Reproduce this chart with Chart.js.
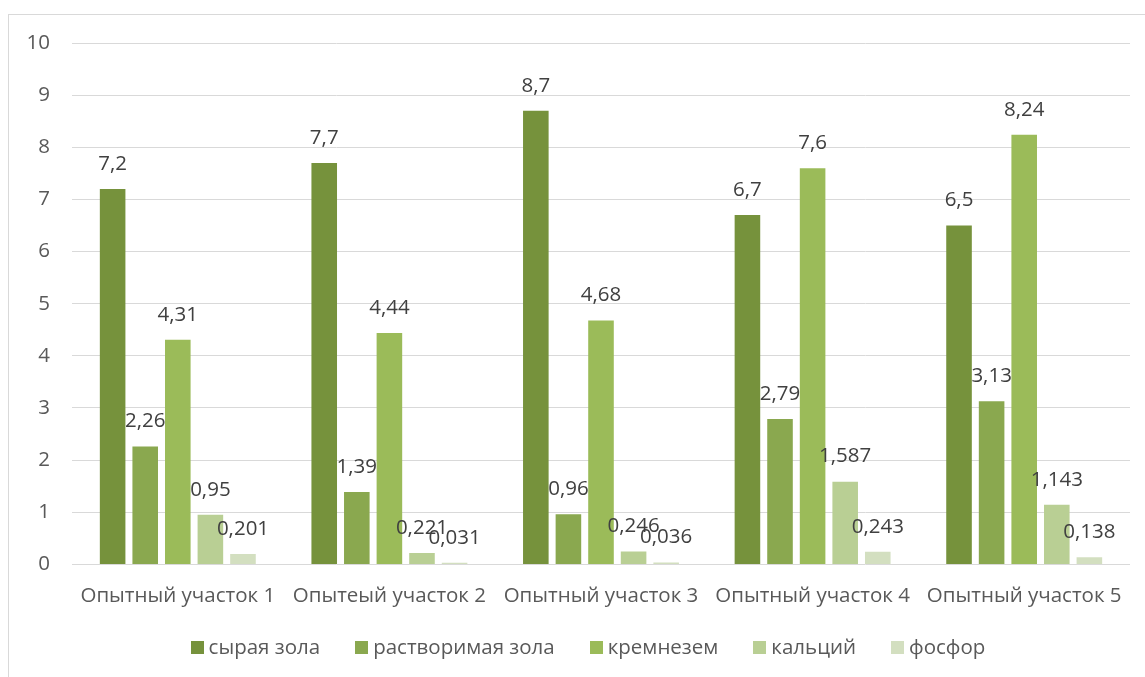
<!DOCTYPE html>
<html>
<head>
<meta charset="utf-8">
<script src="https://cdn.jsdelivr.net/npm/chart.js@4/dist/chart.umd.min.js"></script>
<style>
  html, body { margin: 0; padding: 0; background: #fff; overflow: hidden; }
  #frame {
    position: absolute; left: 8px; top: 14px;
    width: 1200px; height: 700px;
    border: 1px solid #d9d9d9;
  }
  #wrap { position: absolute; left: 0; top: 0; width: 1145px; height: 677px; }
</style>
</head>
<body>
<div id="frame"></div>
<div id="wrap"><canvas id="chart"></canvas></div>
<script>
const categories = ['Опытный участок 1', 'Опытеый участок 2', 'Опытный участок 3', 'Опытный участок 4', 'Опытный участок 5'];

const seriesNames = ['сырая зола', 'растворимая зола', 'кремнезем', 'кальций', 'фосфор'];

const rawAsh = [7.2, 7.7, 8.7, 6.7, 6.5];
const solubleAsh = [2.26, 1.39, 0.96, 2.79, 3.13];
const silica = [4.31, 4.44, 4.68, 7.6, 8.24];
const calcium = [0.95, 0.221, 0.246, 1.587, 1.143];
const phosphorus = [0.201, 0.031, 0.036, 0.243, 0.138];

const yTicks = [0, 1, 2, 3, 4, 5, 6, 7, 8, 9, 10];

const colors = ['#76923c', '#8aa84f', '#9bbb59', '#b9cf94', '#d3dfc0'];

const FONT = '"Open Sans", "Noto Sans", sans-serif';
const FS = 20.5;

const values = [rawAsh, solubleAsh, silica, calcium, phosphorus];

// labels above each bar, decimal comma like in the source
const barLabels = {
    id: 'barLabels',
    afterDatasetsDraw(chart) {
        const ctx = chart.ctx;
        ctx.save();
        ctx.font = FS + 'px ' + FONT;
        ctx.fillStyle = '#404040';
        ctx.textAlign = 'center';
        ctx.textBaseline = 'middle';
        chart.data.datasets.forEach((ds, i) => {
            const meta = chart.getDatasetMeta(i);
            meta.data.forEach((bar, j) => {
                const txt = String(ds.data[j]).replace('.', ',');
                ctx.fillText(txt, bar.x, bar.y - 25);
            });
        });
        ctx.restore();
    }
};

// excel-like legend: small square, tight gap to the text
const bottomLegend = {
    id: 'bottomLegend',
    afterDraw(chart) {
        const ctx = chart.ctx;
        const box = 13, gap = 5, spacing = 35, cy = 648, cx = 588;
        ctx.save();
        ctx.font = FS + 'px ' + FONT;
        ctx.textBaseline = 'middle';
        ctx.textAlign = 'left';
        const widths = seriesNames.map(n => ctx.measureText(n).width);
        const total = widths.reduce((a, w) => a + box + gap + w, 0) + spacing * (seriesNames.length - 1);
        let x = cx - total / 2;
        chart.data.datasets.forEach((ds, i) => {
            ctx.fillStyle = ds.backgroundColor;
            ctx.fillRect(Math.round(x), cy - 7, box, box);
            ctx.fillStyle = '#595959';
            ctx.fillText(ds.label, x + box + gap, cy);
            x += box + gap + widths[i] + spacing;
        });
        ctx.restore();
    }
};

new Chart(document.getElementById('chart'), {
    type: 'bar',
    data: {
        labels: categories,
        datasets: seriesNames.map((name, i) => ({
            label: name,
            data: values[i],
            backgroundColor: colors[i],
            borderWidth: 0,
            categoryPercentage: 0.77,
            barPercentage: 0.785
        }))
    },
    options: {
        responsive: true,
        maintainAspectRatio: false,
        animation: false,
        layout: {
            padding: { left: 0, right: 15, top: 43, bottom: 50 }
        },
        scales: {
            x: {
                grid: { display: false, drawTicks: false },
                border: { display: false },
                ticks: {
                    color: '#595959',
                    font: { family: FONT, size: FS },
                    padding: 19,
                    maxRotation: 0,
                    autoSkip: false
                }
            },
            y: {
                min: 0,
                max: 10,
                afterBuildTicks: (scale) => {
                    scale.ticks = yTicks.map(v => ({ value: v }));
                },
                afterFit: (scale) => { scale.width = 72; },
                grid: { color: '#d9d9d9', lineWidth: 1, drawTicks: false },
                border: { display: false },
                ticks: {
                    color: '#595959',
                    font: { family: FONT, size: FS },
                    padding: 22
                }
            }
        },
        plugins: {
            legend: { display: false },
            tooltip: { enabled: false }
        }
    },
    plugins: [barLabels, bottomLegend]
});
</script>
</body>
</html>
